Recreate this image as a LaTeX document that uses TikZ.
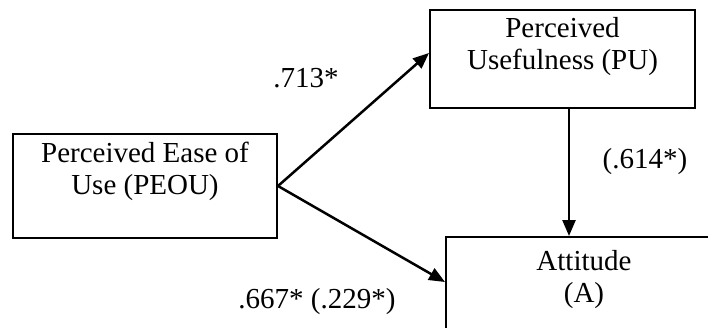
\documentclass[tikz,border=0pt]{standalone}
\usepackage{fontspec}
\setmainfont{Liberation Serif}
\usetikzlibrary{arrows.meta}
\tikzset{
  box/.style={draw, rectangle, line width=2pt, inner sep=0pt},
  boxtext/.style={align=center, anchor=north, inner sep=0pt, font=\fontsize{29}{32}\selectfont},
  coef/.style={inner sep=0pt, font=\fontsize{29}{32}\selectfont},
  path/.style={line width=2.5pt, -{Triangle[length=16pt, width=13pt]}}
}
\begin{document}
\begin{tikzpicture}[x=1pt, y=1pt]
        \useasboundingbox (0,0) rectangle (708,327);
        \clip (0,0) rectangle (708,327);
        % Define the construct boxes
        \node[box, minimum width=264pt, minimum height=104pt] (PEOU) at (145,141) {};
        \node[box, minimum width=265pt, minimum height=98pt]  (PU)   at (562.5,268) {};
        \node[box, minimum width=280pt, minimum height=104pt] (A)    at (586,38) {};
        \node[boxtext] (tPEOU) at ([yshift=-9pt]PEOU.north) {Perceived Ease of\\Use (PEOU)};
        \node[boxtext] (tPU)   at ([yshift=-8pt]PU.north)   {Perceived\\Usefulness (PU)};
        \node[boxtext] (tA)    at ([xshift=-2pt,yshift=-14pt]A.north) {Attitude\\(A)};
        % Connect the boxes
        \draw[path] (PEOU.east) -- ([yshift=6pt]PU.west);
        \draw[path] (PEOU.east) -- ([yshift=7pt]A.west);
        \draw[path] ([xshift=6.5pt]PU.south) -- ([xshift=6.5pt]PU.south |- A.north);
        % Path coefficients
        \node[coef] (cPU)  at (306,249) {.713*};
        \node[coef] (cA)   at (645,165) {(.614*)};
        \node[coef] (cPA)  at (317,25)  {.667* (.229*)};
\end{tikzpicture}
\end{document}
